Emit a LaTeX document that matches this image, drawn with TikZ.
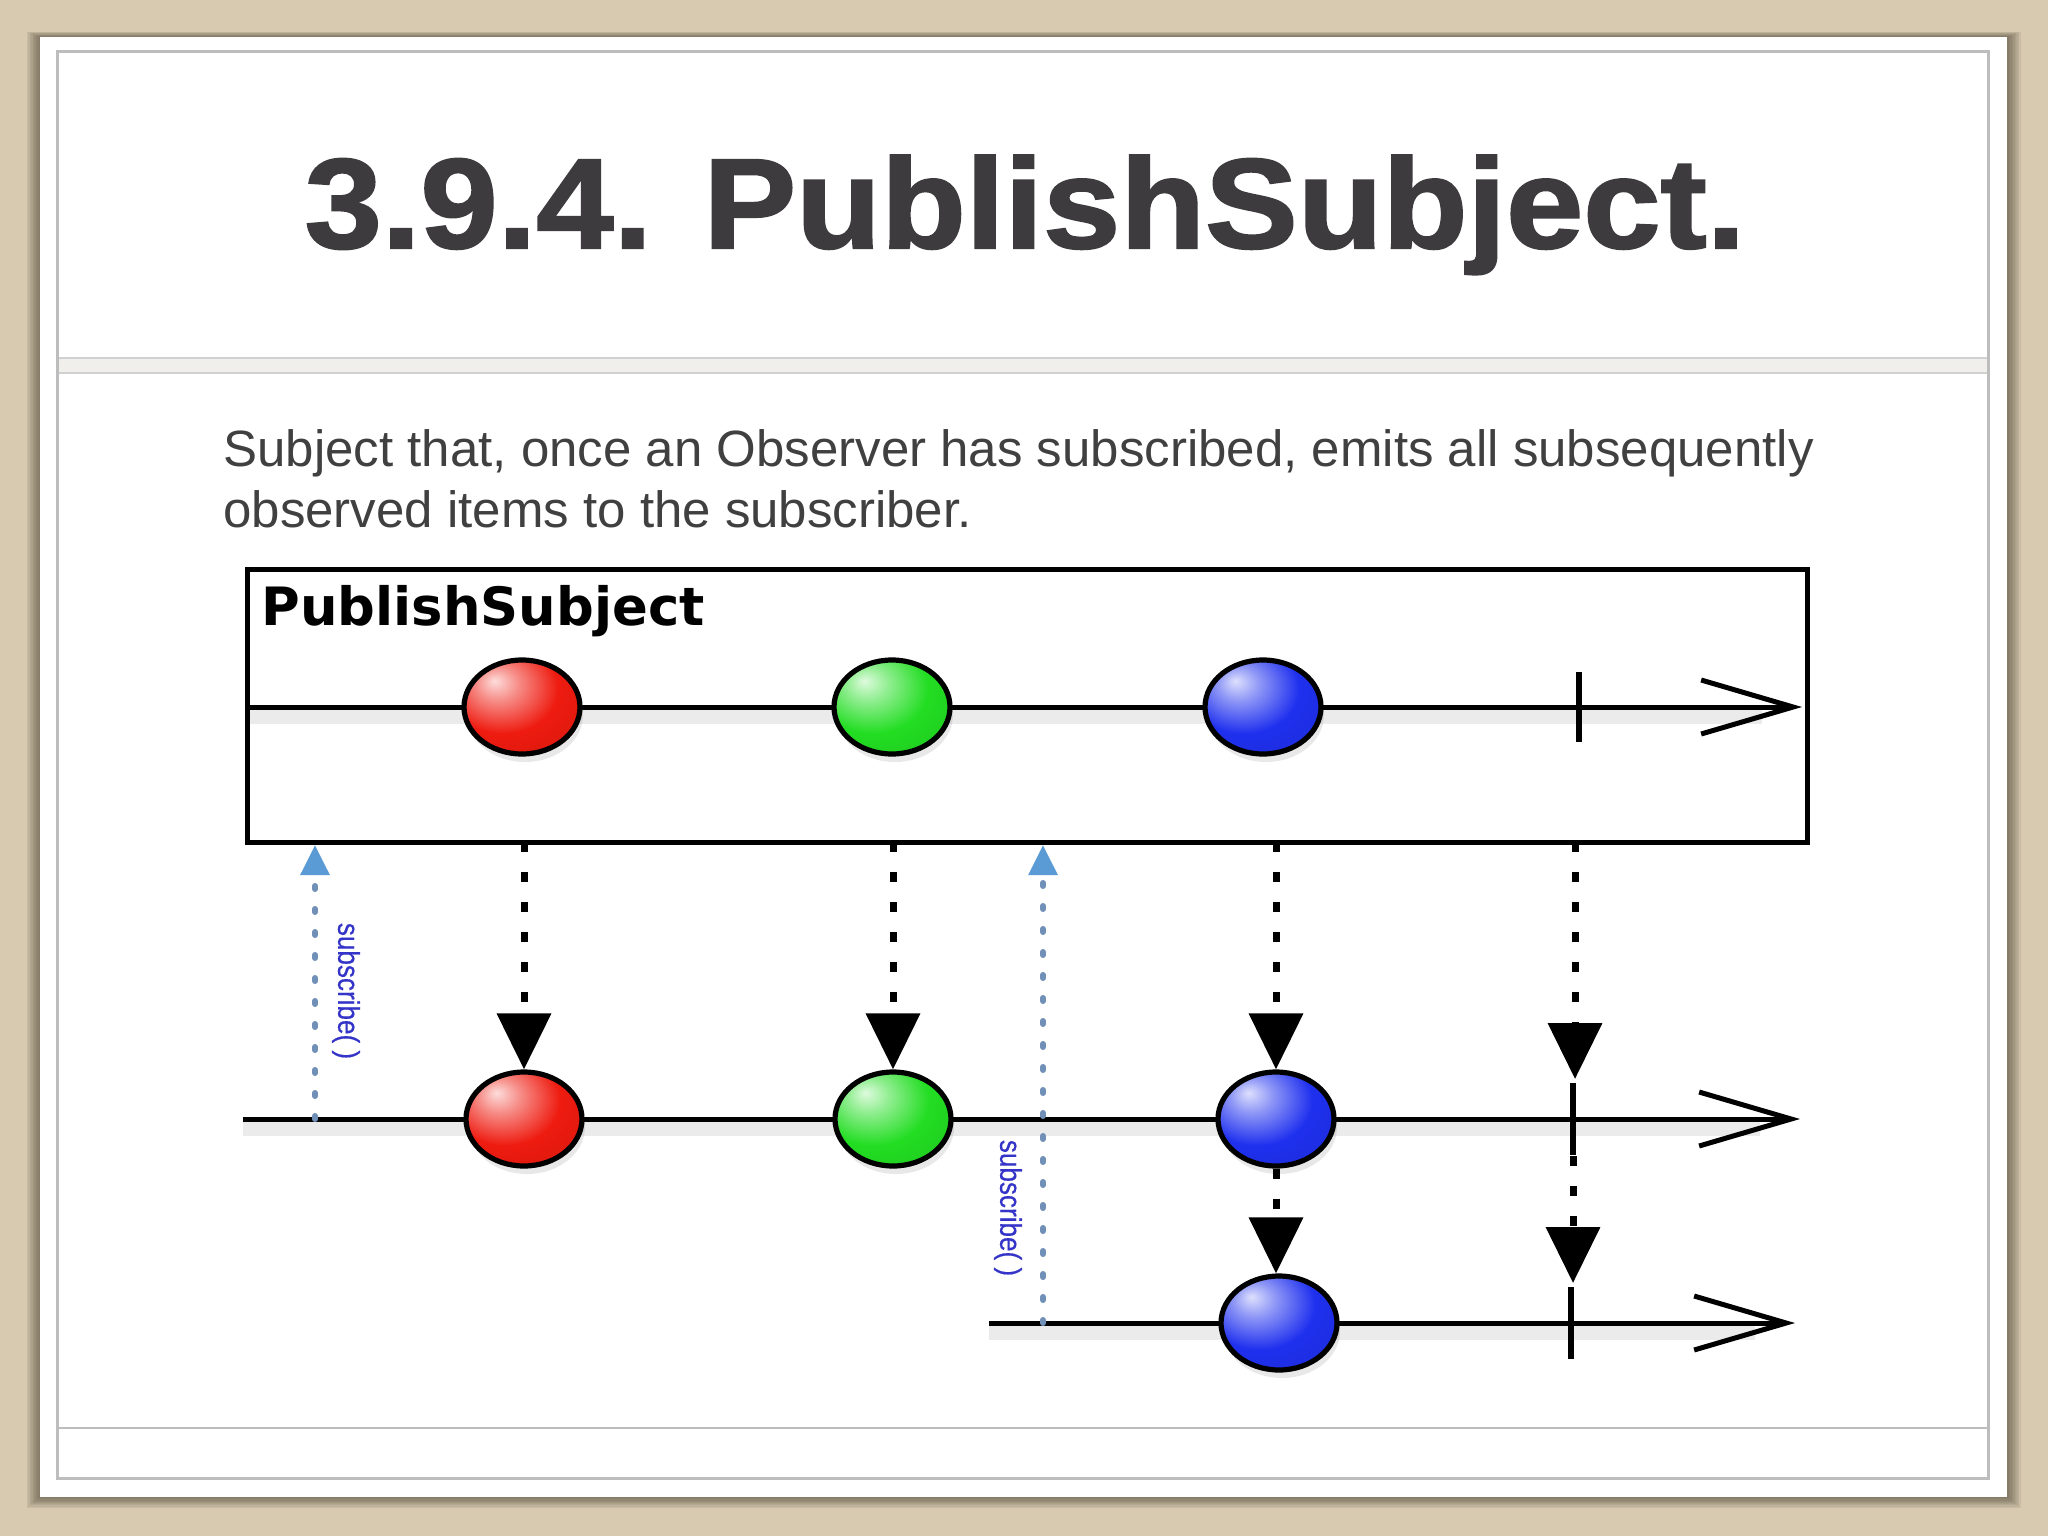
\documentclass[tikz,border=0pt]{standalone}
\usepackage{fontspec}
\setmainfont{Liberation Sans}
\newfontfamily\lblfont{DejaVu Sans}
\newfontfamily\titlefont{Liberation Sans}[BoldFeatures={FakeBold=1.6}]
\newfontfamily\subfont{Liberation Sans}[FakeBold=0.5]
\usetikzlibrary{arrows.meta,shapes.geometric,shadows}
\definecolor{bgbeige}{HTML}{D8C9B1}
\definecolor{shadowbrown}{HTML}{4E4536}
\definecolor{titlegray}{HTML}{3D3B3E}
\definecolor{textgray}{HTML}{404040}
\definecolor{framegray}{HTML}{BDBDBD}
\definecolor{bandgray}{HTML}{F0EFEB}
\definecolor{subblue}{HTML}{3434C8}
\definecolor{dotblue}{HTML}{7090B8}
\definecolor{tipblue}{HTML}{5B9BD5}
\definecolor{ballred}{HTML}{EE1B10}
\definecolor{ballgreen}{HTML}{22DD22}
\definecolor{ballblue}{HTML}{1F30EE}
\pgfdeclareradialshading{redball}{\pgfpoint{-12bp}{14bp}}{color(0bp)=(ballred!15!white); color(9bp)=(ballred!50!white); color(24bp)=(ballred); color(48bp)=(ballred!88!black); color(80bp)=(ballred!70!black)}
\pgfdeclareradialshading{greenball}{\pgfpoint{-12bp}{14bp}}{color(0bp)=(ballgreen!15!white); color(9bp)=(ballgreen!50!white); color(24bp)=(ballgreen); color(48bp)=(ballgreen!88!black); color(80bp)=(ballgreen!70!black)}
\pgfdeclareradialshading{blueball}{\pgfpoint{-12bp}{14bp}}{color(0bp)=(ballblue!15!white); color(9bp)=(ballblue!50!white); color(24bp)=(ballblue); color(48bp)=(ballblue!88!black); color(80bp)=(ballblue!70!black)}
\tikzset{
  ballnode/.style={ellipse, draw=black, line width=2.6pt, minimum width=58pt, minimum height=47pt, inner sep=0pt,
    drop shadow={shadow xshift=1.5pt, shadow yshift=-4pt, opacity=0.18}},
  timeline/.style={line width=2.5pt, -{Straight Barb[length=46pt,width=27pt,line width=2.5pt]}},
  tlshadow/.style={draw=black, opacity=0.08, line width=9pt},
  tickline/.style={line width=2.8pt},
  emit/.style={line width=3.5pt, dash pattern=on 5pt off 10pt, -{Triangle[length=28pt,width=26.5pt]}},
  subarrow/.style={draw=dotblue, line width=3pt, line cap=round, dash pattern=on 1.5pt off 10pt, -{Triangle[length=15pt,width=14pt,color=tipblue]}},
  sublabel/.style={rotate=-90, font=\subfont\fontsize{15pt}{17pt}\selectfont, text=subblue, inner sep=0pt}
}
\begin{document}
\begin{tikzpicture}[x=0.5pt,y=-0.5pt]
\useasboundingbox (0,0) rectangle (2048,1536);
% background and slide
\fill[bgbeige] (0,0) rectangle (2048,1536);
\foreach \i in {1,...,9}{
  \fill[shadowbrown, opacity=0.09] (40-1.5*\i,37-0.6*\i) rectangle (2007+1.5*\i,1497+1.2*\i);
}
\fill[white] (40,37) rectangle (2007,1497);
\fill[bandgray] (57,358) rectangle (1988,373);
\draw[framegray!70, line width=1pt] (57,358) -- (1988,358) (57,373) -- (1988,373);
\draw[framegray, line width=1pt] (57,1428) -- (1988,1428);
\draw[framegray, line width=1.5pt] (57,52) rectangle (1988,1478);
% title and description
\node[anchor=base, font=\titlefont\bfseries\fontsize{64pt}{77pt}\selectfont, text=titlegray, inner sep=0pt] (title) at (1025,248) {\scalebox{1.085}[1]{3.9.4. PublishSubject.}};
\node[anchor=base west, font=\fontsize{25.5pt}{30.5pt}\selectfont, text=textgray, inner sep=0pt] (desc1) at (223,466) {Subject that, once an Observer has subscribed, emits all subsequently};
\node[anchor=base west, font=\fontsize{25.5pt}{30.5pt}\selectfont, text=textgray, inner sep=0pt] (desc2) at (223,527) {observed items to the subscriber.};
% subject box
\node[draw, line width=2.5pt, minimum width=780pt, minimum height=136.5pt, inner sep=0pt, anchor=north west] (box) at (245,567) {};
\node[anchor=base west, font=\lblfont\bfseries\fontsize{26.4pt}{30pt}\selectfont, inner sep=0pt] (lbl) at (261,625) {PublishSubject};
% coordinates
\coordinate (t1s) at (245,707);  \coordinate (t1e) at (1802,707);
\coordinate (t2s) at (243,1119); \coordinate (t2e) at (1800,1119);
\coordinate (t3s) at (989,1323); \coordinate (t3e) at (1795,1323);
\coordinate (k1) at (1579,707); \coordinate (k2) at (1573,1119); \coordinate (k3) at (1571,1323);
% line shadows
\draw[tlshadow] ([yshift=-4pt]t1s) -- ([yshift=-4pt,xshift=-20pt]t1e);
\draw[tlshadow] ([yshift=-4pt]t2s) -- ([yshift=-4pt,xshift=-20pt]t2e);
\draw[tlshadow] ([yshift=-4pt]t3s) -- ([yshift=-4pt,xshift=-20pt]t3e);
% timelines
\draw[timeline] (t1s) -- (t1e);
\draw[timeline] (t2s) -- (t2e);
\draw[timeline] (t3s) -- (t3e);
\draw[tickline] (k1) ++(0,-35) -- ++(0,70);
\draw[tickline] (k2) ++(0,-36) -- ++(0,72);
\draw[tickline] (k3) ++(0,-36) -- ++(0,72);
% balls
\node[ballnode, shading=redball] (r1) at (522,707) {};
\node[ballnode, shading=greenball] (g1) at (892,707) {};
\node[ballnode, shading=blueball] (b1) at (1263,707) {};
\node[ballnode, shading=redball] (r2) at (524,1119) {};
\node[ballnode, shading=greenball] (g2) at (893,1119) {};
\node[ballnode, shading=blueball] (b2) at (1276,1119) {};
\node[ballnode, shading=blueball] (b3) at (1279,1323) {};
% emission arrows
\coordinate (e1) at (524,842);
\coordinate (e2) at (893,842);
\coordinate (e3) at (1276,842);
\coordinate (e4) at (1575,842);
\coordinate (e4t) at (1575,1079);
\coordinate (e5) at (1573,1156);
\coordinate (e5t) at (1573,1283);
\draw[emit] (e1) -- (r2.north);
\draw[emit] (e2) -- (g2.north);
\draw[emit] (e3) -- (b2.north);
\draw[emit] (e4) -- (e4t);
\draw[emit] (b2.south) -- (b2.south |- b3.north);
\draw[emit] (e5) -- (e5t);
% subscribe arrows
\coordinate (s1b) at (315,1119); \coordinate (s1t) at (315,845);
\coordinate (s2b) at (1043,1323); \coordinate (s2t) at (1043,845);
\draw[subarrow] (s1b) -- (s1t);
\draw[subarrow] (s2b) -- (s2t);
\node[sublabel] (sl1) at (346,991) {\scalebox{0.87}[1]{subscribe( )}};
\node[sublabel] (sl2) at (1008,1208) {\scalebox{0.87}[1]{subscribe( )}};
\end{tikzpicture}
\end{document}
